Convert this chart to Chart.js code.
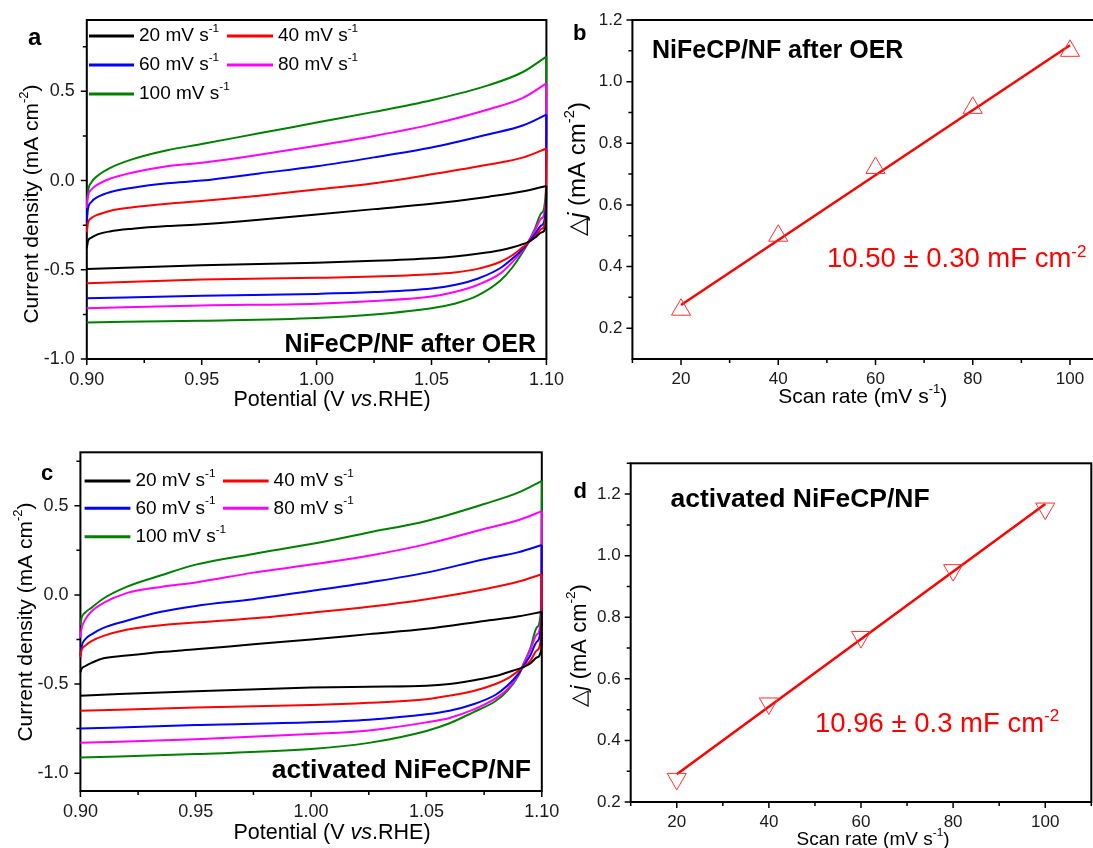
<!DOCTYPE html>
<html>
<head>
<meta charset="utf-8">
<script src="https://cdn.jsdelivr.net/npm/chart.js@4.4.1/dist/chart.umd.min.js"></script>
<style>
html, body { margin: 0; padding: 0; background: #fff; width: 1093px; height: 848px; overflow: hidden; }
canvas { position: absolute; }
</style>
</head>
<body>
<canvas id="chartA" width="580" height="420" style="left:0;top:0"></canvas>
<canvas id="chartC" width="580" height="428" style="left:0;top:420px"></canvas>
<canvas id="chartB" width="580" height="420" style="left:560px;top:0"></canvas>
<canvas id="chartD" width="570" height="428" style="left:560px;top:420px"></canvas>
<script>
// scan rates (mV/s), same order in every list below
const scanRates = [20, 40, 60, 80, 100]
const scanLabels = ['20 mV s', '40 mV s', '60 mV s', '80 mV s', '100 mV s']

// potential grid (V vs RHE) for the forward and backward sweep
const potentialUp = [0.900, 0.9005, 0.902, 0.905, 0.910, 0.920, 0.935, 0.950, 0.975, 1.000, 1.025, 1.050, 1.075, 1.090, 1.100]
const potentialDown = [1.0998, 1.098, 1.095, 1.092, 1.090, 1.085, 1.080, 1.070, 1.060, 1.050, 1.025, 1.000, 0.950, 0.900]

// a: NiFeCP/NF after OER, current density (mA cm-2)
const oerUp = [
    [-0.38, -0.34, -0.32, -0.30, -0.285, -0.27, -0.255, -0.245, -0.22, -0.19, -0.16, -0.13, -0.09, -0.06, -0.03],
    [-0.29, -0.24, -0.21, -0.19, -0.17, -0.15, -0.13, -0.115, -0.085, -0.05, -0.015, 0.035, 0.09, 0.13, 0.18],
    [-0.23, -0.16, -0.12, -0.09, -0.065, -0.04, -0.015, 0.0, 0.04, 0.08, 0.13, 0.185, 0.26, 0.31, 0.37],
    [-0.155, -0.09, -0.05, -0.02, 0.01, 0.045, 0.08, 0.10, 0.145, 0.195, 0.25, 0.315, 0.40, 0.465, 0.545],
    [-0.13, -0.06, -0.01, 0.03, 0.07, 0.12, 0.17, 0.205, 0.265, 0.325, 0.385, 0.45, 0.535, 0.61, 0.695]
]
const oerDown = [
    [-0.25, -0.29, -0.32, -0.345, -0.355, -0.375, -0.39, -0.41, -0.425, -0.435, -0.45, -0.46, -0.475, -0.495],
    [-0.20, -0.27, -0.315, -0.35, -0.37, -0.42, -0.455, -0.495, -0.515, -0.525, -0.538, -0.545, -0.555, -0.575],
    [-0.15, -0.25, -0.30, -0.35, -0.38, -0.44, -0.49, -0.55, -0.585, -0.605, -0.625, -0.635, -0.645, -0.66],
    [-0.10, -0.21, -0.28, -0.345, -0.385, -0.46, -0.52, -0.585, -0.625, -0.65, -0.675, -0.69, -0.70, -0.715],
    [-0.05, -0.18, -0.27, -0.35, -0.395, -0.49, -0.56, -0.645, -0.69, -0.715, -0.75, -0.77, -0.785, -0.795]
]

// c: activated NiFeCP/NF
const actUp = [
    [-0.435, -0.415, -0.40, -0.38, -0.355, -0.34, -0.32, -0.305, -0.277, -0.25, -0.22, -0.19, -0.146, -0.12, -0.095],
    [-0.35, -0.31, -0.286, -0.258, -0.23, -0.195, -0.17, -0.155, -0.131, -0.10, -0.067, -0.024, 0.032, 0.075, 0.116],
    [-0.34, -0.29, -0.25, -0.22, -0.185, -0.145, -0.095, -0.062, -0.024, 0.022, 0.07, 0.125, 0.20, 0.24, 0.28],
    [-0.24, -0.19, -0.14, -0.09, -0.045, 0.01, 0.045, 0.07, 0.125, 0.17, 0.22, 0.285, 0.37, 0.42, 0.47],
    [-0.17, -0.13, -0.10, -0.07, -0.02, 0.045, 0.11, 0.17, 0.23, 0.285, 0.35, 0.415, 0.51, 0.575, 0.64]
]
const actDown = [
    [-0.30, -0.35, -0.385, -0.405, -0.415, -0.435, -0.455, -0.48, -0.50, -0.51, -0.515, -0.52, -0.54, -0.565],
    [-0.22, -0.31, -0.37, -0.405, -0.425, -0.47, -0.50, -0.54, -0.565, -0.585, -0.605, -0.618, -0.632, -0.65],
    [-0.15, -0.26, -0.34, -0.40, -0.44, -0.51, -0.56, -0.615, -0.65, -0.67, -0.70, -0.715, -0.73, -0.75],
    [-0.10, -0.22, -0.31, -0.39, -0.445, -0.53, -0.58, -0.645, -0.69, -0.715, -0.76, -0.78, -0.81, -0.83],
    [-0.05, -0.18, -0.30, -0.39, -0.45, -0.54, -0.595, -0.66, -0.72, -0.763, -0.83, -0.865, -0.893, -0.912]
]

// b, d: delta j vs scan rate, and the linear fit ends
const deltaJOer = [0.26, 0.50, 0.72, 0.915, 1.10]
const fitOerX = [20, 100]
const fitOer = [0.275, 1.118]
const deltaJAct = [0.275, 0.52, 0.736, 0.953, 1.153]
const fitActX = [20, 100]
const fitAct = [0.29, 1.168]

// ticks
const cvXMajor = [0.90, 0.95, 1.00, 1.05, 1.10]
const cvXMinor = [0.925, 0.975, 1.025, 1.075]
const cvYMajor = [-1.0, -0.5, 0.0, 0.5]
const cvYMinor = [-0.75, -0.25, 0.25, 0.75]
const rateMajor = [20, 40, 60, 80, 100]
const rateMinor = [10, 30, 50, 70, 90, 110]
const djMajor = [0.2, 0.4, 0.6, 0.8, 1.0, 1.2]
const djMinor = [0.3, 0.5, 0.7, 0.9, 1.1]

const colors = ['#000000', '#ff0000', '#0000ff', '#ff00ff', '#008000']
const FONT = '"Liberation Sans", Arial, sans-serif'

function drawRich(ctx, s) {
    ctx.save()
    ctx.translate(s.x, s.y)
    if (s.rotate) ctx.rotate(s.rotate)
    ctx.fillStyle = s.color || '#000'
    ctx.textBaseline = s.baseline || 'alphabetic'
    ctx.textAlign = 'left'
    const fontFor = st => (st === 'i' ? 'italic ' : '') + (s.bold ? 'bold ' : '') + (st === 's' ? s.size * 0.62 : s.size) + 'px ' + FONT
    let total = 0
    s.parts.forEach(([t, st]) => { ctx.font = fontFor(st); total += ctx.measureText(t).width })
    let cx = s.align === 'center' ? -total / 2 : s.align === 'right' ? -total : 0
    s.parts.forEach(([t, st]) => {
        ctx.font = fontFor(st)
        ctx.fillText(t, cx, st === 's' ? -s.size * 0.38 : 0)
        cx += ctx.measureText(t).width
    })
    ctx.restore()
}

const framePlugin = {
    id: 'frame',
    beforeDatasetsDraw(chart, args, opts) {
        const { ctx, chartArea: a, scales: { x, y } } = chart
        ctx.save()
        ctx.strokeStyle = '#000'
        ctx.lineWidth = 2
        ctx.strokeRect(a.left, a.top, a.right - a.left, a.bottom - a.top)
        ctx.lineWidth = 1.5
        ctx.beginPath()
        opts.xMajor.forEach(v => { const p = x.getPixelForValue(v); ctx.moveTo(p, a.bottom); ctx.lineTo(p, a.bottom + 6) })
        opts.xMinor.forEach(v => { const p = x.getPixelForValue(v); ctx.moveTo(p, a.bottom); ctx.lineTo(p, a.bottom + 4) })
        opts.yMajor.forEach(v => { const p = y.getPixelForValue(v); ctx.moveTo(a.left, p); ctx.lineTo(a.left - 6, p) })
        opts.yMinor.forEach(v => { const p = y.getPixelForValue(v); ctx.moveTo(a.left, p); ctx.lineTo(a.left - 4, p) })
        ctx.stroke()
        ctx.restore()
    },
    afterDraw(chart, args, opts) {
        const ctx = chart.ctx
        ;(opts.texts || []).forEach(t => drawRich(ctx, t))
        if (opts.legend) {
            const L = opts.legend
            scanLabels.forEach((lab, i) => {
                const slot = L.slots[i]
                ctx.save()
                ctx.strokeStyle = colors[i]
                ctx.lineWidth = 3
                ctx.beginPath()
                ctx.moveTo(slot[0], slot[2])
                ctx.lineTo(slot[1], slot[2])
                ctx.stroke()
                ctx.restore()
                drawRich(ctx, { x: slot[1] + 5, y: slot[2], size: 19, baseline: 'middle', parts: [[lab, ''], ['-1', 's']] })
            })
        }
    }
}

function axis(min, max, major, fmt, fixedSize, isX, fontSize, pad) {
    return {
        type: 'linear',
        min: min,
        max: max,
        afterBuildTicks: s => { s.ticks = major.map(v => ({ value: v })) },
        afterFit: s => {
            if (isX) s.height = fixedSize
            else s.width = fixedSize
            s.paddingLeft = 0; s.paddingRight = 0; s.paddingTop = 0; s.paddingBottom = 0
        },
        grid: { display: false, drawTicks: false },
        border: { display: false },
        ticks: {
            autoSkip: false,
            maxRotation: 0,
            padding: pad,
            color: '#1a1a1a',
            font: { family: FONT, size: fontSize },
            callback: v => v.toFixed(fmt)
        }
    }
}

function cvDatasets(up, down) {
    let sets = []
    up.forEach((arr, i) => {
        sets.push({
            data: potentialUp.map((p, k) => ({ x: p, y: arr[k] })),
            borderColor: colors[i], borderWidth: 2, pointRadius: 0,
            cubicInterpolationMode: 'monotone', clip: 4
        })
        sets.push({
            data: [{ x: 1.1, y: arr[arr.length - 1] }].concat(potentialDown.map((p, k) => ({ x: p, y: down[i][k] }))),
            borderColor: colors[i], borderWidth: 2, pointRadius: 0,
            cubicInterpolationMode: 'monotone', clip: 4
        })
    })
    return sets
}

function baseOptions(padding, scales, frame) {
    return {
        responsive: false,
        animation: false,
        layout: { padding: padding },
        scales: scales,
        plugins: { legend: { display: false }, tooltip: { enabled: false }, frame: frame }
    }
}

//cv after OER
new Chart(document.getElementById('chartA'), {
    type: 'line',
    data: { datasets: cvDatasets(oerUp, oerDown) },
    options: baseOptions({ left: 0, top: 20, right: 33.6, bottom: 0 }, {
        x: axis(0.9, 1.1, cvXMajor, 2, 61, true, 18, 10),
        y: axis(-1.0, 0.9, cvYMajor, 1, 86.8, false, 18, 12)
    }, {
        xMajor: cvXMajor, xMinor: cvXMinor, yMajor: cvYMajor, yMinor: cvYMinor,
        legend: { slots: [[89, 134, 36], [227, 273, 36], [89, 134, 65], [227, 273, 65], [89, 134, 94]] },
        texts: [
            { x: 28, y: 45, size: 24, bold: true, parts: [['a', '']] },
            { x: 536, y: 352, size: 25, bold: true, align: 'right', parts: [['NiFeCP/NF after OER', '']] },
            { x: 32, y: 204, size: 21, rotate: -Math.PI / 2, align: 'center', baseline: 'middle', parts: [['Current density (mA cm', ''], ['-2', 's'], [')', '']] },
            { x: 332, y: 400, size: 21.5, align: 'center', baseline: 'middle', parts: [['Potential (V ', ''], ['vs', 'i'], ['.RHE)', '']] }
        ]
    }),
    plugins: [framePlugin]
})

//cv activated
new Chart(document.getElementById('chartC'), {
    type: 'line',
    data: { datasets: cvDatasets(actUp, actDown) },
    options: baseOptions({ left: 0, top: 32.3, right: 38.2, bottom: 0 }, {
        x: axis(0.9, 1.1, cvXMajor, 2, 57, true, 18, 10),
        y: axis(-1.1, 0.8, cvYMajor, 1, 80.4, false, 18, 12)
    }, {
        xMajor: cvXMajor, xMinor: cvXMinor, yMajor: cvYMajor, yMinor: cvYMinor,
        legend: { slots: [[84.6, 130.4, 61], [223, 268.6, 61], [84.6, 130.4, 88.3], [223, 268.6, 88.3], [84.6, 130.4, 116.7]] },
        texts: [
            { x: 41, y: 60, size: 22, bold: true, parts: [['c', '']] },
            { x: 531, y: 358, size: 26.5, bold: true, align: 'right', parts: [['activated NiFeCP/NF', '']] },
            { x: 26, y: 202, size: 21, rotate: -Math.PI / 2, align: 'center', baseline: 'middle', parts: [['Current density (mA cm', ''], ['-2', 's'], [')', '']] },
            { x: 332, y: 413, size: 21.5, align: 'center', baseline: 'middle', parts: [['Potential (V ', ''], ['vs', 'i'], ['.RHE)', '']] }
        ]
    }),
    plugins: [framePlugin]
})

function rateDatasets(vals, fitX, fitY, rot) {
    return [{
        data: scanRates.map((r, k) => ({ x: r, y: vals[k] })),
        showLine: false,
        pointStyle: 'triangle',
        pointRotation: rot,
        pointRadius: 11,
        pointBorderWidth: 1,
        pointBorderColor: '#ff3030',
        pointBackgroundColor: 'rgba(0,0,0,0)'
    }, {
        data: fitX.map((r, k) => ({ x: r, y: fitY[k] })),
        borderColor: '#ff0000',
        borderWidth: 2.5,
        pointRadius: 0
    }]
}

//delta j after OER
new Chart(document.getElementById('chartB'), {
    type: 'line',
    data: { datasets: rateDatasets(deltaJOer, fitOerX, fitOer, 0) },
    options: baseOptions({ left: 0, top: 20, right: 21.4, bottom: 0 }, {
        x: axis(10, 110, rateMajor, 0, 61, true, 17, 10),
        y: axis(0.1, 1.2, djMajor, 1, 72.4, false, 17, 10)
    }, {
        xMajor: rateMajor, xMinor: rateMinor, yMajor: djMajor, yMinor: djMinor,
        texts: [
            { x: 13, y: 40, size: 22, bold: true, parts: [['b', '']] },
            { x: 92, y: 58, size: 25, bold: true, parts: [['NiFeCP/NF after OER', '']] },
            { x: 267, y: 267, size: 27.5, color: '#ff0000', parts: [['10.50 \u00b1 0.30 mF cm', ''], ['-2', 's']] },
            { x: 18.7, y: 169, size: 24, rotate: -Math.PI / 2, align: 'center', baseline: 'middle', parts: [['\u25b3', ''], ['j', 'i'], [' (mA cm', ''], ['-2', 's'], [')', '']] },
            { x: 302.7, y: 397, size: 21, align: 'center', baseline: 'middle', parts: [['Scan rate (mV s', ''], ['-1', 's'], [')', '']] }
        ]
    }),
    plugins: [framePlugin]
})

//delta j activated
new Chart(document.getElementById('chartD'), {
    type: 'line',
    data: { datasets: rateDatasets(deltaJAct, fitActX, fitAct, 180) },
    options: baseOptions({ left: 0, top: 43.3, right: 38.7, bottom: 0 }, {
        x: axis(10, 110, rateMajor, 0, 46, true, 17, 10),
        y: axis(0.2, 1.3, djMajor, 1, 70.7, false, 17, 10)
    }, {
        xMajor: rateMajor, xMinor: rateMinor, yMajor: djMajor, yMinor: djMinor.concat([1.3]),
        texts: [
            { x: 13.6, y: 78, size: 22, bold: true, parts: [['d', '']] },
            { x: 110.5, y: 87, size: 26.5, bold: true, parts: [['activated NiFeCP/NF', '']] },
            { x: 255, y: 311.7, size: 27.5, color: '#ff0000', parts: [['10.96 \u00b1 0.3 mF cm', ''], ['-2', 's']] },
            { x: 20, y: 225.7, size: 22, rotate: -Math.PI / 2, align: 'center', baseline: 'middle', parts: [['\u25b3', ''], ['j', 'i'], [' (mA cm', ''], ['-2', 's'], [')', '']] },
            { x: 313, y: 420, size: 19, align: 'center', baseline: 'middle', parts: [['Scan rate (mV s', ''], ['-1', 's'], [')', '']] }
        ]
    }),
    plugins: [framePlugin]
})
</script>
</body>
</html>
